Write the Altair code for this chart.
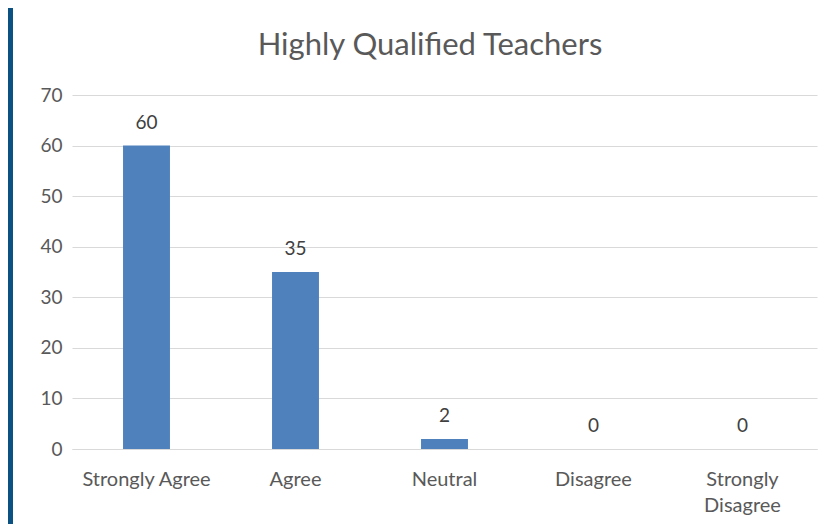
import altair as alt
import pandas as pd

categories = ["Strongly Agree", "Agree", "Neutral", "Disagree", "Strongly Disagree"]
values = [60, 35, 2, 0, 0]
y_ticks = [0, 10, 20, 30, 40, 50, 60, 70]
title_text = ["Highly Qualified Teachers"]

df = pd.DataFrame({"cat": categories, "val": values})

FONT = "Lato"
GREY = "#595959"

x_enc = alt.X(
    "cat:N",
    sort=categories,
    title=None,
    scale=alt.Scale(paddingInner=0.685, paddingOuter=0.3425),
    axis=alt.Axis(
        labelAngle=0,
        labelFont=FONT,
        labelFontSize=20,
        labelColor=GREY,
        labelPadding=20,
        labelLineHeight=26,
        ticks=False,
        domainColor="#d9d9d9",
        domainWidth=1,
        labelExpr="datum.label == 'Strongly Disagree' ? ['Strongly', 'Disagree'] : datum.label",
    ),
)
y_enc = alt.Y(
    "val:Q",
    title=None,
    scale=alt.Scale(domain=[0, 70], nice=False),
    axis=alt.Axis(
        values=y_ticks,
        labelFont=FONT,
        labelFontSize=19,
        labelColor=GREY,
        labelPadding=10,
        ticks=False,
        domain=False,
        gridColor="#d9d9d9",
        gridWidth=1,
    ),
)

bars = alt.Chart(df).mark_bar(color="#4f81bd").encode(x=x_enc, y=y_enc)
labels = alt.Chart(df).mark_text(
    font=FONT, fontSize=19, color="#404040", baseline="bottom", dy=-13
).encode(x=alt.X("cat:N", sort=categories), y="val:Q", text="val:Q")

border = alt.Chart(df).mark_rect(color="#0b5282").encode(
    x=alt.value(-64), x2=alt.value(-59), y=alt.value(-87), y2=alt.value(429)
)

title = alt.Chart(pd.DataFrame({"t": title_text})).mark_text(
    font=FONT, fontSize=31, color=GREY, baseline="middle", align="center"
).encode(x=alt.value(358), y=alt.value(-49), text="t:N")

chart = alt.layer(bars, labels, border, title).properties(
    width=745,
    height=354,
    padding={"left": 64, "top": 87, "right": 4, "bottom": 75},
    autosize=alt.AutoSizeParams(type="none"),
    background="white",
).configure_view(stroke=None)

chart.save("out.html", embed_options={"renderer": "svg", "actions": False})
